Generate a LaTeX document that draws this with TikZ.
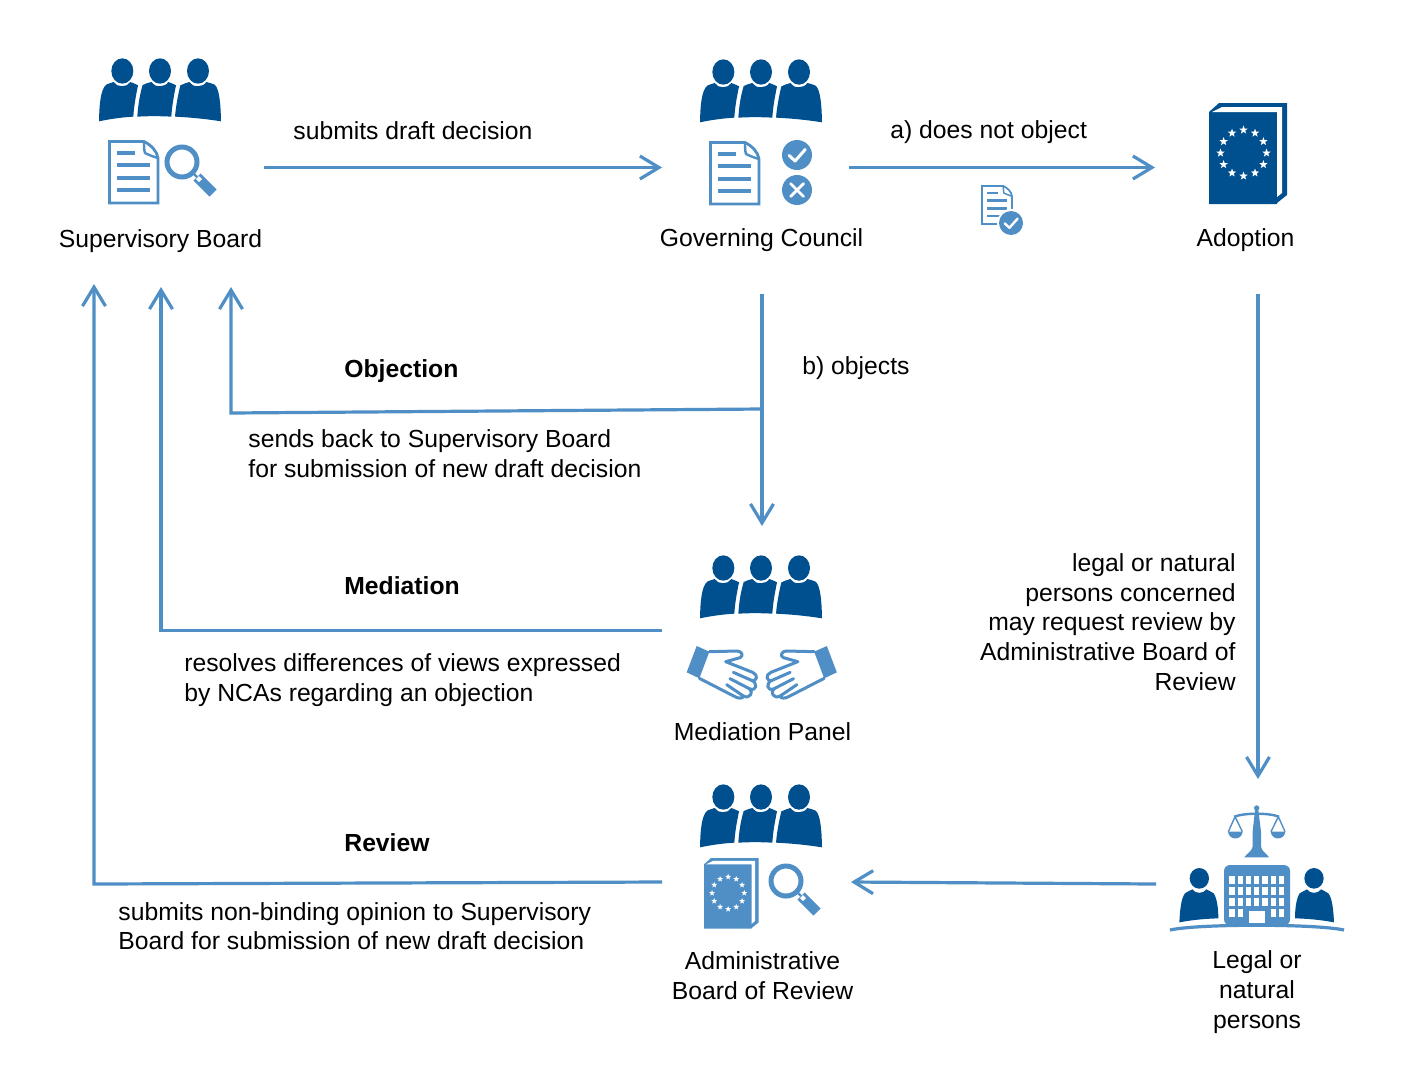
\documentclass[tikz,border=0pt]{standalone}
\usepackage{fontspec}
\setmainfont{Liberation Sans}
\usetikzlibrary{arrows.meta}
\definecolor{dk}{HTML}{00508F}
\definecolor{md}{HTML}{4F8FC6}
\newcommand{\fivestar}[1]{(270:#1) -- (306:#1*0.42) -- (342:#1) -- (18:#1*0.42) -- (54:#1) -- (90:#1*0.42) -- (126:#1) -- (162:#1*0.42) -- (198:#1) -- (234:#1*0.42) -- cycle}
\newcommand{\handdraw}{%
  \fill[md] (50,18) -- (88,35) -- (58,115) -- (20,97) -- cycle;
  \draw[md,line width=1.5pt,line join=round,line cap=round] (88,35) -- (172,33) .. controls (186,34) and (192,48) .. (180,53) -- (137,65) -- (218,97) .. controls (236,104) and (232,128) .. (212,120) -- (160,97)
    (212,120) .. controls (236,128) and (230,156) .. (208,146) -- (150,116)
    (208,146) .. controls (222,156) and (210,178) .. (190,168) -- (140,134)
    (190,168) .. controls (190,176) and (175,176) .. (165,170) -- (58,115);
}
\newcommand{\persondraw}{%
  \fill[dk] (103,235) ellipse[x radius=29,y radius=31];
  \fill[dk] (43,367) .. controls (45,330) and (48,295) .. (60,280) .. controls (68,274) and (75,272) .. (82,268) .. controls (90,282) and (116,282) .. (124,268) .. controls (130,272) and (138,274) .. (146,280) .. controls (156,295) and (160,325) .. (160,355) .. controls (120,356) and (80,360) .. (43,367) -- cycle;
}
\tikzset{
  x=0.5pt,y=-0.5pt,
  flow/.style={draw=md,line width=1.6pt,-{Straight Barb[length=9.5pt,width=11.5pt,line width=1.6pt]}},
  lbl/.style={inner sep=0pt,font=\fontsize{12.36}{15}\selectfont,text=black},
  lblb/.style={lbl,font=\fontsize{12.36}{15}\selectfont\bfseries},
  pics/trio/.style={code={
    \begin{scope}[scale=1/3,shift={(-240,-92)}]
      \fill[dk] (127,92) ellipse[x radius=33,y radius=38];
      \fill[dk] (240,92) ellipse[x radius=33,y radius=38];
      \fill[dk] (354,92) ellipse[x radius=33,y radius=38];
      \fill[dk] (57,243) .. controls (58,190) and (62,145) .. (80,132) .. controls (88,128) and (95,128) .. (101,125) .. controls (110,142) and (142,142) .. (151,125) .. controls (158,128) and (166,130) .. (174,135) .. controls (168,165) and (162,195) .. (160,229) .. controls (125,231) and (90,236) .. (57,243) -- cycle;
      \fill[dk] (172,229) .. controls (174,195) and (180,160) .. (188,134) .. controls (197,128) and (207,128) .. (214,125) .. controls (223,142) and (255,142) .. (265,125) .. controls (272,128) and (280,130) .. (288,135) .. controls (282,165) and (276,195) .. (274,229) .. controls (240,227) and (205,227) .. (172,229) -- cycle;
      \fill[dk] (285,229) .. controls (288,195) and (294,165) .. (301,135) .. controls (310,130) and (320,128) .. (328,125) .. controls (337,142) and (369,142) .. (379,125) .. controls (388,128) and (395,128) .. (404,133) .. controls (418,145) and (422,190) .. (423,243) .. controls (380,236) and (330,231) .. (285,229) -- cycle;
    \end{scope}
  }},
  pics/docicon/.style={code={
    \begin{scope}[scale=#1]
      \draw[md,line width={#1*1.4pt},line join=miter] (1.5,1.5) -- (36,1.5) .. controls (43,5) and (49,11) .. (50,18) -- (50,63) -- (1.5,63) -- cycle;
      \draw[md,line width={#1*1.2pt}] (36,1.5) .. controls (36,6) and (36,10) .. (37,13) .. controls (41,15) and (46,17) .. (50,18);
      \draw[md,line width={#1*2pt}] (9,13) -- (27,13) (9,25) -- (42,25) (9,38) -- (42,38) (9,50) -- (42,50);
    \end{scope}
  }},
  pics/lens/.style={code={
    \draw[md,line width=2.5pt] (0,0) circle[radius=15];
    \draw[md,line width=5pt] (15,15) -- (31,31);
    \fill[white] (14,17) -- (17,14) -- (20,17) -- (17,20) -- cycle;
    \draw[md,line width=1.2pt] (11,11) -- (15,15);
  }},
  pics/bookicon/.style={code={
    \begin{scope}[scale=#1]
      \fill[bookcol] (0,9) -- (10,0) -- (78,0) -- (78,92) -- (68,100) -- (68,101) -- (0,101) -- cycle;
      \fill[white] (3,9) -- (13,4) -- (73,4) -- (73,90) -- (68,94) -- (68,9) -- cycle;
      \begin{scope}[shift={(34.5,50)}]
        \foreach \a in {0,30,...,330}{
          \fill[white,shift={(\a:23)}] \fivestar{4.4};
        }
      \end{scope}
    \end{scope}
  }},
  bookcol/.style={dk},
  pics/tick/.style={code={
    \fill[md] (0,0) circle[radius=#1];
    \draw[white,line width={#1*0.1pt},line cap=round,line join=round] (-#1*0.53,#1*0.03) -- (-#1*0.13,#1*0.4) -- (#1*0.55,-#1*0.37);
  }},
  pics/cross/.style={code={
    \fill[md] (0,0) circle[radius=15];
    \draw[white,line width=1.4pt,line cap=round] (-6.5,-6.5) -- (6.5,6.5) (-6.5,6.5) -- (6.5,-6.5);
  }}
}
\begin{document}
\begin{tikzpicture}
\useasboundingbox (0,0) rectangle (1416,1082);
\fill[white] (0,0) rectangle (1416,1082);

% Icons
\pic at (160,71) {trio};
\pic at (108,140) {docicon=1};
\pic at (182,162) {lens};
\pic at (761,72) {trio};
\pic at (709,141) {docicon=1};
\pic at (797,155) {tick=15};
\pic at (797,190) {cross};
\pic at (981,185) {docicon=0.62};
\fill[white] (1011,223) circle[radius=14];
\pic at (1011,223) {tick=12};
\pic at (1209,103) {bookicon=1};
\pic at (761,568) {trio};
\begin{scope}[shift={(680,640)},scale=1/3]
  \handdraw
\end{scope}
\begin{scope}[shift={(843.5,640)},xscale=-1,scale=1/3]
  \handdraw
\end{scope}
\pic at (761,797) {trio};
\begin{scope}[bookcol/.style={md}]
  \pic at (704,858) {bookicon=0.7};
\end{scope}
\pic at (786,881) {lens};

% Legal or natural persons icon
\begin{scope}[shift={(1165,800)},scale=1/3]
  \persondraw
  \begin{scope}[shift={(550,0)},xscale=-1]
    \persondraw
  \end{scope}
  \fill[md,rounded corners=3pt] (177,195) rectangle (375,376);
  \foreach \c in {201,226,250,275,300,325,349}{
    \foreach \r in {241,273,305}{
      \fill[white] (\c-8,\r-12) rectangle (\c+8,\r+12);
    }
  }
  \foreach \c in {201,226,325,349}{
    \fill[white] (\c-8,326) rectangle (\c+8,350);
  }
  \fill[white] (251,332) rectangle (300,368);
  \fill[white] (0,378) -- (550,378) -- (550,400) -- (0,400) -- cycle;
  \draw[md,line width=1.6pt] (15,390) .. controls (100,371) and (450,371) .. (537,390);
  % scales
  \fill[md] (275,24) circle[radius=8];
  \fill[md] (270,30) -- (280,30) -- (288,95) -- (288,140) .. controls (290,155) and (305,160) .. (312,172) -- (238,172) .. controls (245,160) and (260,155) .. (263,140) -- (263,95) -- cycle;
  \draw[md,line width=1.2pt] (208,50) .. controls (240,38) and (310,38) .. (342,50);
  \draw[md,line width=0.7pt] (190,95) -- (210,50) -- (232,95) (318,95) -- (340,50) -- (360,95);
  \fill[md] (189,95) .. controls (192,122) and (230,122) .. (233,95) -- cycle;
  \fill[md] (317,95) .. controls (320,122) and (358,122) .. (361,95) -- cycle;
\end{scope}

% Labels
\node[lbl,anchor=base] (sb) at (160.5,247) {Supervisory Board};
\node[lbl,anchor=base] (gc) at (761.5,246) {Governing Council};
\node[lbl,anchor=base] (ad) at (1245.5,246) {Adoption};
\node[lbl,anchor=base west] (t1) at (293,139) {submits draft decision};
\node[lbl,anchor=base west] (t2) at (890,138) {a) does not object};
\node[lbl,anchor=base west] (t3) at (802,374) {b) objects};
\node[lblb,anchor=base west] (t4) at (344,377) {Objection};
\node[lbl,anchor=base west] (t5) at (248,447) {sends back to Supervisory Board};
\node[lbl,anchor=base west] (t6) at (248,477) {for submission of new draft decision};
\node[lblb,anchor=base west] (t7) at (344,594) {Mediation};
\node[lbl,anchor=base west] (t8) at (184,671) {resolves differences of views expressed};
\node[lbl,anchor=base west] (t9) at (184,701) {by NCAs regarding an objection};
\node[lbl,anchor=base] (mp) at (762.5,740) {Mediation Panel};
\node[lblb,anchor=base west] (t10) at (344,851) {Review};
\node[lbl,anchor=base west] (t11) at (118,920) {submits non-binding opinion to Supervisory};
\node[lbl,anchor=base west] (t12) at (118,949) {Board for submission of new draft decision};
\node[lbl,anchor=base] (ab1) at (762.5,969) {Administrative};
\node[lbl,anchor=base] (ab2) at (762.5,999) {Board of Review};
\node[lbl,anchor=base] (lg1) at (1257,968) {Legal or};
\node[lbl,anchor=base] (lg2) at (1257,998) {natural};
\node[lbl,anchor=base] (lg3) at (1257,1028) {persons};
\node[lbl,anchor=base east] (r1) at (1236,571) {legal or natural};
\node[lbl,anchor=base east] (r2) at (1236,601) {persons concerned};
\node[lbl,anchor=base east] (r3) at (1236,630) {may request review by};
\node[lbl,anchor=base east] (r4) at (1236,660) {Administrative Board of};
\node[lbl,anchor=base east] (r5) at (1236,690) {Review};

% Connector ends
\coordinate (sbout) at (264,167.5);
\coordinate (gcin) at (662,167.5);
\coordinate (gcout) at (849,167.5);
\coordinate (adin) at (1155,167.5);
\coordinate (gcdown) at (762,294);
\coordinate (mpin) at (762,526);
\coordinate (obj) at (762,409);
\coordinate (objc) at (231,413);
\coordinate (sb3) at (231,287);
\coordinate (mpout) at (662,630.5);
\coordinate (medc) at (161,630.5);
\coordinate (sb2) at (161,287);
\coordinate (about) at (662,882);
\coordinate (revc) at (94,884);
\coordinate (sb1) at (94,284);
\coordinate (addown) at (1258,294);
\coordinate (lgin) at (1258,779);
\coordinate (lgout) at (1156,884);
\coordinate (abin) at (851,882);

\draw[flow] (sbout) -- (gcin);
\draw[flow] (gcout) -- (adin);
\draw[flow] (gcdown) -- (mpin);
\draw[flow] (obj) -- (objc) -- (sb3);
\draw[flow] (mpout) -- (medc) -- (sb2);
\draw[flow] (about) -- (revc) -- (sb1);
\draw[flow] (addown) -- (lgin);
\draw[flow] (lgout) -- (abin);
\end{tikzpicture}
\end{document}
